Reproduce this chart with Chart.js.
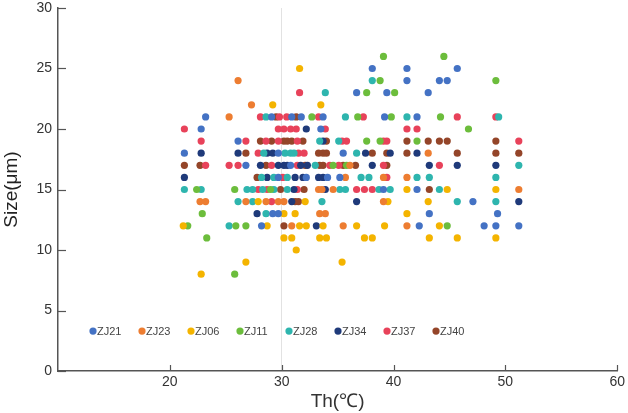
<!DOCTYPE html>
<html>
<head>
<meta charset="utf-8">
<script src="https://cdn.jsdelivr.net/npm/chart.js@4.4.1/dist/chart.umd.min.js"></script>
<style>
  html, body { margin: 0; padding: 0; background: #fff; }
  #wrap { width: 628px; height: 413px; }
</style>
</head>
<body>
<div id="wrap"><canvas id="plot" width="628" height="413"></canvas></div>
<script>
// [Th, Size] pairs
const ZJ21 = [
  [38.1, 25], [41.2, 25], [45.7, 25],
  [41.2, 24], [44.1, 24], [44.8, 24],
  [36.7, 23], [39.4, 23], [43.1, 23],
  [23.2, 21], [29.1, 21], [30.9, 21], [31.75, 21], [33.7, 21], [39.2, 21], [42.1, 21],
  [22.8, 20], [33.5, 20],
  [26.1, 19],
  [21.3, 18], [29.7, 18], [35.5, 18],
  [26.8, 17], [30.8, 17],
  [29.7, 16], [32.2, 16], [34.1, 16], [35.2, 16],
  [39.1, 15], [42.1, 15],
  [47.1, 14],
  [29.2, 13], [29.7, 13], [43.2, 13], [49.3, 13],
  [28.2, 12], [42.3, 12], [48.1, 12], [49.15, 12], [51.2, 12]
];
const ZJ23 = [
  [26.1, 24], [27.3, 22], [25.3, 21], [43.1, 18], [36.1, 17],
  [35.7, 16], [39.1, 16], [41.2, 16],
  [33.3, 15], [33.6, 15], [34.6, 15], [51.2, 15],
  [22.7, 14], [23.2, 14], [26.8, 14], [28.6, 14], [29.7, 14], [30.2, 14], [39.1, 14],
  [33.4, 13], [33.9, 13],
  [30.9, 12], [35.5, 12], [41.2, 12]
];
const ZJ06 = [
  [31.6, 25], [29.2, 22], [33.5, 22],
  [41.2, 15], [44.8, 15], [49.15, 15],
  [27.9, 14], [32.1, 14], [39.5, 14], [43.1, 14],
  [30.2, 13], [31.2, 13], [41.2, 13],
  [21.2, 12], [28.7, 12], [31.6, 12], [32.2, 12], [33.7, 12], [36.7, 12], [39.2, 12], [44.1, 12],
  [30.2, 11], [30.9, 11], [33.4, 11], [34.0, 11], [37.4, 11], [38.1, 11], [43.2, 11], [45.7, 11], [49.15, 11],
  [31.3, 10], [26.8, 9], [35.4, 9], [22.8, 8]
];
const ZJ11 = [
  [39.1, 26], [44.5, 26],
  [38.8, 24], [49.15, 24],
  [37.6, 23], [40.1, 23],
  [32.7, 21], [36.8, 21], [39.8, 21], [44.2, 21],
  [46.7, 20],
  [37.6, 19], [38.8, 19], [42.1, 19],
  [34.6, 17], [35.8, 17],
  [22.4, 15], [25.8, 15], [29.0, 15],
  [22.9, 13],
  [21.6, 12], [25.9, 12], [26.8, 12], [44.8, 12],
  [23.3, 11], [25.8, 8]
];
const ZJ28 = [
  [38.1, 24], [33.9, 23],
  [28.6, 21], [35.7, 21], [41.2, 21], [49.4, 21],
  [33.4, 19], [35.1, 19],
  [28.4, 18], [30.3, 18], [30.8, 18], [31.1, 18], [36.7, 18],
  [33.0, 17], [51.2, 17],
  [28.2, 16], [29.3, 16], [30.5, 16], [37.1, 16], [37.8, 16], [42.1, 16], [43.2, 16], [49.15, 16],
  [21.3, 15], [22.8, 15], [26.9, 15], [27.4, 15], [28.3, 15], [29.3, 15], [30.5, 15], [35.2, 15],
  [35.7, 15], [38.7, 15], [39.7, 15], [44.1, 15],
  [26.1, 14], [27.4, 14], [33.6, 14], [45.7, 14], [49.15, 14],
  [28.6, 13], [25.3, 12]
];
const ZJ34 = [
  [32.2, 20], [33.7, 19],
  [22.8, 18], [26.1, 18], [28.7, 18], [29.2, 18], [37.5, 18], [39.7, 18], [42.1, 18],
  [28.1, 17], [29.7, 17], [30.2, 17], [30.5, 17], [31.7, 17], [32.3, 17], [38.1, 17], [43.2, 17],
  [45.7, 17], [49.15, 17],
  [21.3, 16], [28.7, 16], [31.2, 16], [31.9, 16], [33.3, 16], [33.7, 16],
  [31.1, 15], [33.9, 15],
  [30.9, 14], [36.7, 14], [51.2, 14],
  [27.8, 13], [33.1, 12]
];
const ZJ37 = [
  [31.6, 23],
  [28.1, 21], [29.8, 21], [30.45, 21], [33.3, 21], [37.3, 21], [45.7, 21], [49.15, 21],
  [21.3, 20], [29.7, 20], [30.2, 20], [30.8, 20], [31.3, 20], [33.9, 20], [41.2, 20], [42.1, 20],
  [22.8, 19], [26.8, 19], [28.6, 19], [29.7, 19], [31.4, 19], [35.4, 19], [35.8, 19], [39.1, 19],
  [39.4, 19], [51.2, 19],
  [27.9, 18], [31.5, 18], [32.0, 18],
  [23.2, 17], [25.3, 17], [26.1, 17], [29.1, 17], [31.4, 17], [34.3, 17], [35.1, 17], [39.1, 17], [44.1, 17],
  [30.1, 16], [39.4, 16],
  [27.9, 15], [28.7, 15], [31.4, 15], [36.7, 15], [37.4, 15], [38.1, 15],
  [29.1, 14]
];
const ZJ40 = [
  [29.5, 21], [31.3, 21],
  [28.1, 19], [29.1, 19], [30.2, 19], [30.5, 19], [30.9, 19], [31.9, 19], [34.0, 19], [41.2, 19],
  [43.1, 19], [44.1, 19], [44.8, 19], [49.15, 19],
  [26.8, 18], [33.3, 18], [33.7, 18], [34.0, 18], [38.1, 18], [39.4, 18], [41.2, 18], [45.7, 18],
  [49.15, 18], [51.2, 18],
  [21.3, 17], [22.7, 17], [28.6, 17], [32.1, 17], [33.4, 17], [33.7, 17], [35.5, 17], [36.6, 17], [39.4, 17],
  [27.8, 16],
  [29.9, 15], [32.0, 15], [43.2, 15],
  [31.2, 14], [31.5, 14],
  [30.2, 12]
];

const SERIES_NAMES = ['ZJ21', 'ZJ23', 'ZJ06', 'ZJ11', 'ZJ28', 'ZJ34', 'ZJ37', 'ZJ40'];
const SERIES_DATA = [ZJ21, ZJ23, ZJ06, ZJ11, ZJ28, ZJ34, ZJ37, ZJ40];
const SERIES_COLORS = ['#4472c4', '#ed7d31', '#f4b400', '#6cbd3c', '#2eb5ae', '#1f3a7a', '#e8425a', '#944529'];

const X_TICKS = [10, 20, 30, 40, 50, 60];
const Y_TICKS = [0, 5, 10, 15, 20, 25, 30];

const FONT = '"Liberation Sans", Arial, sans-serif';
const AXIS_COLOR = '#555';

function toPoints(pairs) {
  return pairs.map(([x, y]) => ({ x, y }));
}

function createDataset(name, index) {
  return {
    label: name,
    data: toPoints(SERIES_DATA[index]),
    backgroundColor: SERIES_COLORS[index],
    borderColor: SERIES_COLORS[index],
    borderWidth: 0,
    pointRadius: 3.6,
    pointHoverRadius: 3.6
  };
}

// inward tick marks on the left and bottom axes
const innerTicks = {
  id: 'innerTicks',
  afterDraw(chart) {
    const { ctx, chartArea, scales } = chart;
    ctx.save();
    ctx.strokeStyle = AXIS_COLOR;
    ctx.lineWidth = 1.2;
    Y_TICKS.forEach((v) => {
      const py = Math.round(scales.y.getPixelForValue(v)) + 0.5;
      ctx.beginPath();
      ctx.moveTo(chartArea.left, py);
      ctx.lineTo(chartArea.left + 8, py);
      ctx.stroke();
    });
    X_TICKS.slice(1).forEach((v) => {
      const px = Math.round(scales.x.getPixelForValue(v)) + 0.5;
      ctx.beginPath();
      ctx.moveTo(px, chartArea.bottom);
      ctx.lineTo(px, chartArea.bottom - 6);
      ctx.stroke();
    });
    ctx.restore();
  }
};

// legend row drawn inside the plot, near the bottom
const insideLegend = {
  id: 'insideLegend',
  afterDraw(chart) {
    const { ctx, chartArea, scales } = chart;
    const py = scales.y.getPixelForValue(3.3);
    ctx.save();
    ctx.font = '11px ' + FONT;
    ctx.textBaseline = 'middle';
    ctx.textAlign = 'left';
    SERIES_NAMES.forEach((name, i) => {
      const px = chartArea.left + 35 + i * 49;
      ctx.fillStyle = SERIES_COLORS[i];
      ctx.beginPath();
      ctx.arc(px, py, 3.6, 0, Math.PI * 2);
      ctx.fill();
      ctx.fillStyle = '#444';
      ctx.fillText(name, px + 4, py + 1);
    });
    ctx.restore();
  }
};

new Chart(document.getElementById('plot').getContext('2d'), {
  type: 'scatter',
  data: { datasets: SERIES_NAMES.map(createDataset) },
  options: {
    responsive: false,
    animation: false,
    layout: { padding: { top: 8, right: 10, left: 0, bottom: 0 } },
    plugins: {
      legend: { display: false },
      tooltip: { enabled: false }
    },
    scales: {
      x: {
        type: 'linear',
        min: 10,
        max: 60,
        afterBuildTicks: (scale) => { scale.ticks = X_TICKS.map((value) => ({ value })); },
        afterFit: (scale) => { scale.height = 42; },
        border: { display: true, color: AXIS_COLOR, width: 1.5 },
        grid: {
          drawTicks: false,
          color: (c) => (c.tick && c.tick.value === 30 ? '#e2e2e2' : 'rgba(0,0,0,0)'),
          lineWidth: 1
        },
        ticks: {
          padding: 3,
          color: '#333',
          font: { family: FONT, size: 14 },
          callback: (v) => (v === 10 ? '' : v)
        },
        title: {
          display: true,
          text: 'Th(℃)',
          color: '#333',
          padding: { top: 0, bottom: 0 },
          font: { family: FONT, size: 19 }
        }
      },
      y: {
        type: 'linear',
        min: 0,
        max: 30,
        afterBuildTicks: (scale) => { scale.ticks = Y_TICKS.map((value) => ({ value })); },
        afterFit: (scale) => {
          scale.width = 58;
          scale.paddingTop = 0;
          scale.paddingBottom = 0;
        },
        border: { display: true, color: AXIS_COLOR, width: 1.5 },
        grid: { display: false, drawTicks: false },
        ticks: {
          padding: 6,
          color: '#333',
          font: { family: FONT, size: 14 }
        },
        title: {
          display: true,
          text: 'Size(μm)',
          color: '#222',
          padding: { top: 0, bottom: 2 },
          font: { family: FONT, size: 19 }
        }
      }
    }
  },
  plugins: [innerTicks, insideLegend]
});
</script>
</body>
</html>
